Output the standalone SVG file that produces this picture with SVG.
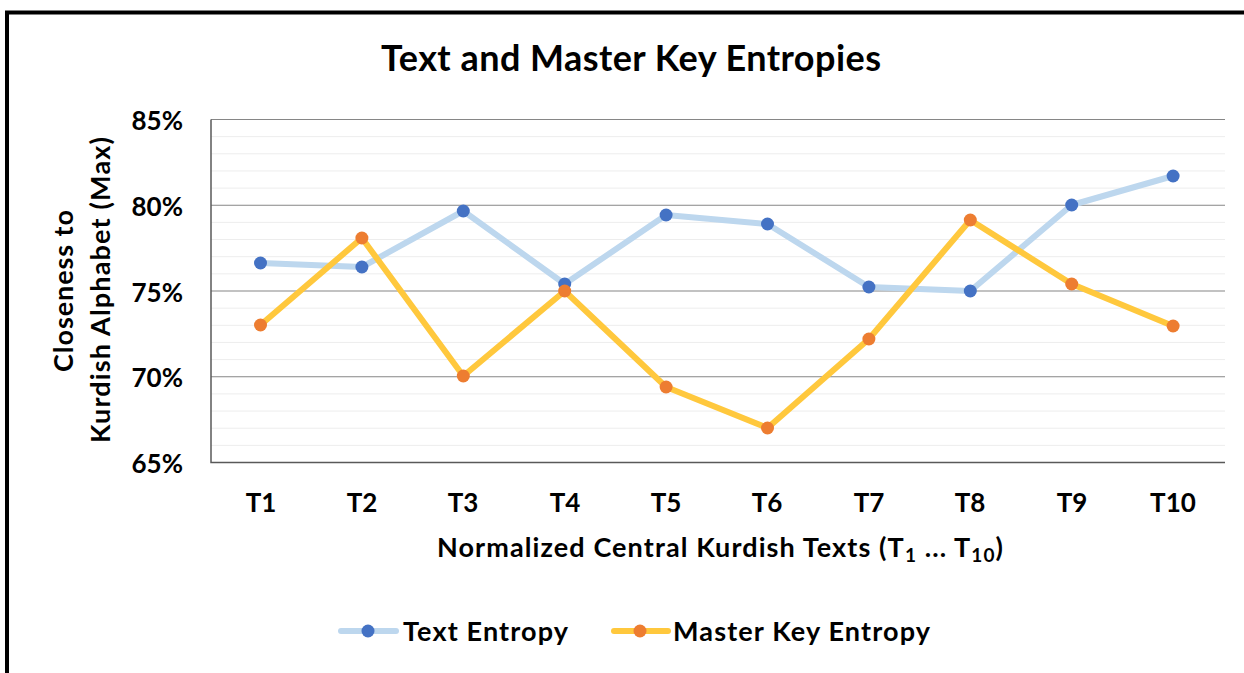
<svg xmlns="http://www.w3.org/2000/svg" width="1244" height="673" viewBox="0 0 1244 673">
<style>
text{font-family:Lato,"Liberation Sans",sans-serif;font-weight:bold;fill:#000}
.title{font-size:36px}
.tick{font-size:26px}
.axt{font-size:27px}
.leg{font-size:27px}
.minor{stroke:#EDEDED;stroke-width:1}
.major{stroke:#868686;stroke-width:1.2}
.axis{stroke:#595959;stroke-width:1.5;fill:none}
.ls1{stroke:#BDD7EE;stroke-width:6;fill:none;stroke-linejoin:round;stroke-linecap:round}
.ls2{stroke:#FFC83D;stroke-width:6;fill:none;stroke-linejoin:round;stroke-linecap:round}
.m1{fill:#4472C4}
.m2{fill:#ED7D31}
</style>
<rect width="1244" height="673" fill="#fff"/>
<polyline points="7,673 7,12.5 1244,12.5" fill="none" stroke="#000" stroke-width="4"/>
<g id="title"><text class="title" x="631" y="71" text-anchor="middle" textLength="500" lengthAdjust="spacing">Text and Master Key Entropies</text></g>
<g id="grid">
<line class="minor" x1="211" y1="136.65" x2="1225" y2="136.65"/>
<line class="minor" x1="211" y1="153.8" x2="1225" y2="153.8"/>
<line class="minor" x1="211" y1="170.95" x2="1225" y2="170.95"/>
<line class="minor" x1="211" y1="188.1" x2="1225" y2="188.1"/>
<line class="minor" x1="211" y1="222.4" x2="1225" y2="222.4"/>
<line class="minor" x1="211" y1="239.55" x2="1225" y2="239.55"/>
<line class="minor" x1="211" y1="256.7" x2="1225" y2="256.7"/>
<line class="minor" x1="211" y1="273.85" x2="1225" y2="273.85"/>
<line class="minor" x1="211" y1="308.15" x2="1225" y2="308.15"/>
<line class="minor" x1="211" y1="325.3" x2="1225" y2="325.3"/>
<line class="minor" x1="211" y1="342.45" x2="1225" y2="342.45"/>
<line class="minor" x1="211" y1="359.6" x2="1225" y2="359.6"/>
<line class="minor" x1="211" y1="393.9" x2="1225" y2="393.9"/>
<line class="minor" x1="211" y1="411.05" x2="1225" y2="411.05"/>
<line class="minor" x1="211" y1="428.2" x2="1225" y2="428.2"/>
<line class="minor" x1="211" y1="445.35" x2="1225" y2="445.35"/>
<line class="major" x1="211" y1="119.5" x2="1225" y2="119.5"/>
<line class="major" x1="211" y1="205.25" x2="1225" y2="205.25"/>
<line class="major" x1="211" y1="291" x2="1225" y2="291"/>
<line class="major" x1="211" y1="376.75" x2="1225" y2="376.75"/>
<polyline class="axis" points="211,119.5 211,462.5 1225,462.5"/>
</g>
<g id="y-ticks" text-anchor="end">
<text class="tick" x="183" y="130">85%</text>
<text class="tick" x="183" y="216">80%</text>
<text class="tick" x="183" y="302">75%</text>
<text class="tick" x="183" y="387">70%</text>
<text class="tick" x="183" y="473">65%</text>
</g>
<g id="x-ticks" text-anchor="middle">
<text class="tick" x="261" y="512">T1</text>
<text class="tick" x="362" y="512">T2</text>
<text class="tick" x="463" y="512">T3</text>
<text class="tick" x="565" y="512">T4</text>
<text class="tick" x="666" y="512">T5</text>
<text class="tick" x="767" y="512">T6</text>
<text class="tick" x="869" y="512">T7</text>
<text class="tick" x="970" y="512">T8</text>
<text class="tick" x="1072" y="512">T9</text>
<text class="tick" x="1173" y="512">T10</text>
</g>
<g id="y-title" text-anchor="middle">
<text class="axt" transform="translate(73,291) rotate(-90)" textLength="162" lengthAdjust="spacing">Closeness to</text>
<text class="axt" transform="translate(110,290) rotate(-90)" textLength="306" lengthAdjust="spacing">Kurdish Alphabet (Max)</text>
</g>
<g id="x-title"><text class="axt" x="437" y="557" letter-spacing="1.1">Normalized Central Kurdish Texts (T<tspan font-size="19" dy="5">1</tspan><tspan dy="-5"> ... T</tspan><tspan font-size="19" dy="5">10</tspan><tspan dy="-5">)</tspan></text></g>
<g id="connectors">
<polyline class="ls1" points="260.5,263 361.9,267 463.3,211 564.7,284 666.1,215 767.5,224 868.9,287 970.3,291 1071.7,205 1173.1,176"/>
<polyline class="ls2" points="260.5,325 361.9,238 463.3,376 564.7,291 666.1,387 767.5,428 868.9,339 970.3,220 1071.7,284 1173.1,326"/>
</g>
<g id="series-text-entropy">
<circle class="m1" cx="260.5" cy="263" r="6.5"/>
<circle class="m1" cx="361.9" cy="267" r="6.5"/>
<circle class="m1" cx="463.3" cy="211" r="6.5"/>
<circle class="m1" cx="564.7" cy="284" r="6.5"/>
<circle class="m1" cx="666.1" cy="215" r="6.5"/>
<circle class="m1" cx="767.5" cy="224" r="6.5"/>
<circle class="m1" cx="868.9" cy="287" r="6.5"/>
<circle class="m1" cx="970.3" cy="291" r="6.5"/>
<circle class="m1" cx="1071.7" cy="205" r="6.5"/>
<circle class="m1" cx="1173.1" cy="176" r="6.5"/>
</g>
<g id="series-master-key-entropy">
<circle class="m2" cx="260.5" cy="325" r="6.5"/>
<circle class="m2" cx="361.9" cy="238" r="6.5"/>
<circle class="m2" cx="463.3" cy="376" r="6.5"/>
<circle class="m2" cx="564.7" cy="291" r="6.5"/>
<circle class="m2" cx="666.1" cy="387" r="6.5"/>
<circle class="m2" cx="767.5" cy="428" r="6.5"/>
<circle class="m2" cx="868.9" cy="339" r="6.5"/>
<circle class="m2" cx="970.3" cy="220" r="6.5"/>
<circle class="m2" cx="1071.7" cy="284" r="6.5"/>
<circle class="m2" cx="1173.1" cy="326" r="6.5"/>
</g>
<g id="legend">
<line class="ls1" x1="341" y1="631" x2="396" y2="631"/>
<circle class="m1" cx="368" cy="631" r="6.5"/>
<text class="leg" x="403" y="641" textLength="165" lengthAdjust="spacing">Text Entropy</text>
<line class="ls2" x1="614" y1="631" x2="668" y2="631"/>
<circle class="m2" cx="640" cy="631" r="6.5"/>
<text class="leg" x="673" y="641" textLength="257" lengthAdjust="spacing">Master Key Entropy</text>
</g>
</svg>
